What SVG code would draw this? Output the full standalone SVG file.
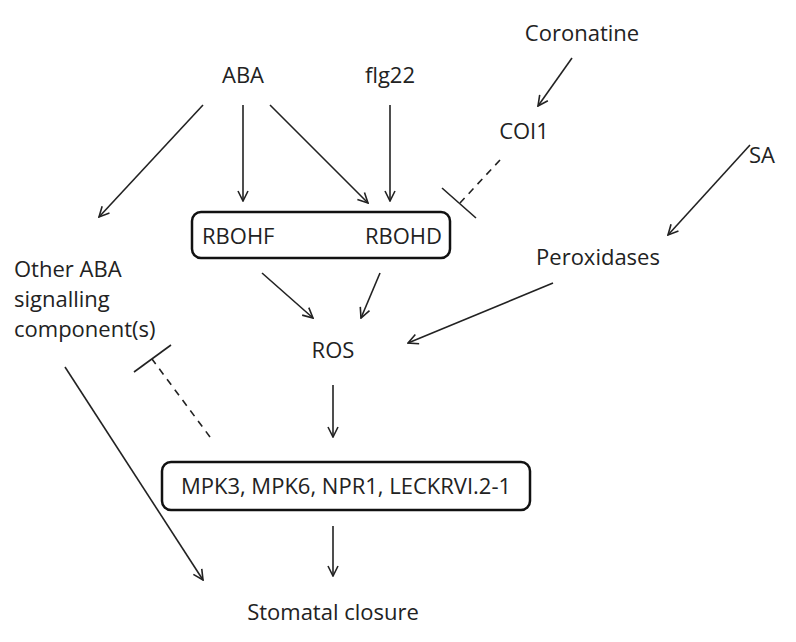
<svg xmlns="http://www.w3.org/2000/svg" width="796" height="642" viewBox="0 0 796 642">
<defs><marker id="a" viewBox="0 0 12 12" refX="11" refY="6" markerWidth="12" markerHeight="12" markerUnits="userSpaceOnUse" orient="auto"><path d="M1,1 L11,6 L1,11" fill="none" stroke="#222" stroke-width="1.6"/></marker></defs>
<style>text{font-family:"Open Sans","Liberation Sans",sans-serif;font-size:22px;fill:#222}.c{text-anchor:middle}line{stroke:#222;stroke-width:1.6}.ar{marker-end:url(#a)}.d{stroke-dasharray:7,6}.b{fill:none;stroke:#111;stroke-width:2.5}</style>
<rect width="796" height="642" fill="#fff"/>
<g id="nABA"><text class="c" x="243" y="83">ABA</text></g>
<g id="nflg22"><text class="c" x="390" y="83">flg22</text></g>
<g id="nCoronatine"><text class="c" x="582" y="41">Coronatine</text></g>
<g id="nCOI1"><text class="c" x="524" y="139">COI1</text></g>
<g id="nSA"><text class="c" x="762" y="163">SA</text></g>
<g id="nRBOH"><rect class="b" x="192" y="212" width="258" height="46" rx="9"/><text x="202" y="244">RBOHF</text><text x="442" y="244" text-anchor="end">RBOHD</text></g>
<g id="nPerox"><text class="c" x="598" y="265">Peroxidases</text></g>
<g id="nOther"><text x="14" y="277">Other ABA</text><text x="14" y="307">signalling</text><text x="14" y="337">component(s)</text></g>
<g id="nROS"><text class="c" x="333" y="358">ROS</text></g>
<g id="nMPK"><rect class="b" x="162" y="462" width="368" height="48" rx="9"/><text class="c" x="346" y="494">MPK3, MPK6, NPR1, LECKRVI.2-1</text></g>
<g id="nStomatal"><text class="c" x="333" y="620">Stomatal closure</text></g>
<g id="connectors">
<line class="ar" x1="203" y1="105" x2="99" y2="217"/>
<line class="ar" x1="243" y1="105" x2="243" y2="201"/>
<line class="ar" x1="270" y1="105" x2="368" y2="203"/>
<line class="ar" x1="390" y1="105" x2="390" y2="201"/>
<line class="ar" x1="572" y1="58" x2="538" y2="106"/>
<line class="ar" x1="750" y1="145" x2="668" y2="235"/>
<line class="ar" x1="553" y1="283" x2="408" y2="343"/>
<line class="ar" x1="262" y1="273" x2="313" y2="318"/>
<line class="ar" x1="380" y1="273" x2="361" y2="318"/>
<line class="ar" x1="333" y1="385" x2="333" y2="437"/>
<line class="ar" x1="333" y1="526" x2="333" y2="576"/>
<line class="ar" x1="65" y1="367" x2="203" y2="580"/>
<line class="d" x1="500" y1="160" x2="460" y2="203"/>
<line x1="442" y1="188" x2="476" y2="218"/>
<line class="d" x1="210" y1="437" x2="152" y2="359"/>
<line x1="134" y1="372" x2="171" y2="345"/>
</g>
</svg>
